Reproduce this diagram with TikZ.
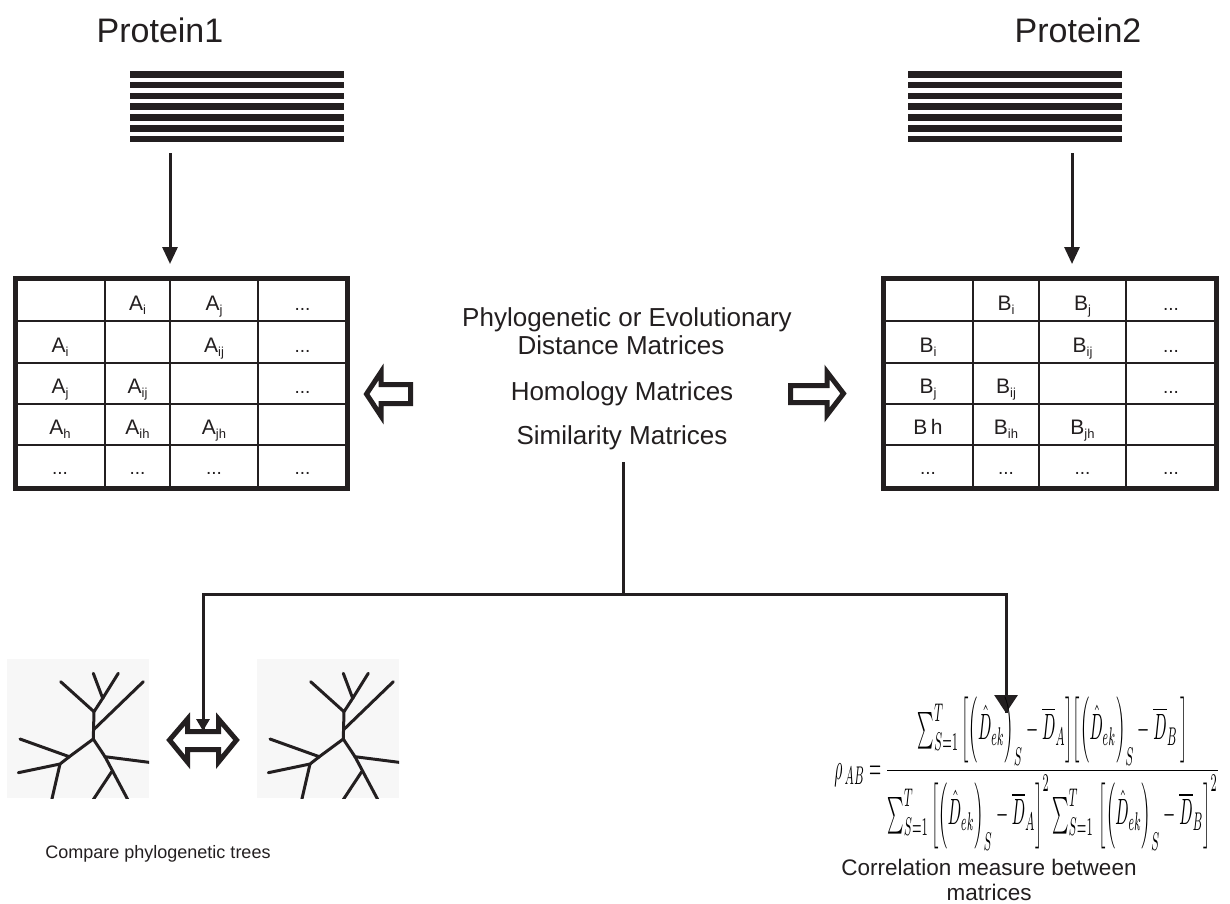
\documentclass[tikz,border=0pt]{standalone}
\usepackage{amsmath}
\usepackage{graphicx}
\usepackage{fontspec}
\setmainfont{Liberation Sans}
\usetikzlibrary{arrows.meta}
\definecolor{ink}{HTML}{231F20}
\definecolor{treebg}{HTML}{F7F7F7}
\newcommand{\msub}[2]{#1\raisebox{-4.5pt}{\fontsize{13}{13}\selectfont #2}}
\tikzset{
  cell/.style={anchor=base, inner sep=0pt, font=\fontsize{21}{21}\selectfont, text=ink},
  dots/.style={anchor=base, inner sep=0pt, font=\fontsize{19}{19}\selectfont, text=ink},
  bar/.style={fill=ink, draw=none},
  conn/.style={draw=ink, line width=3pt},
  hollow/.style={draw=ink, line width=5pt, fill=white, line join=miter},
  branch/.style={draw=ink, line width=3pt, line cap=round},
  label/.style={anchor=base, inner sep=0pt, text=ink},
}
\begin{document}
\begin{tikzpicture}[x=1pt,y=-1pt]
\useasboundingbox[fill=white] (0,0) rectangle (1230,903);

% titles
\node[label, font=\fontsize{34}{34}\selectfont] (p1) at (160,42) {Protein1};
\node[label, font=\fontsize{34}{34}\selectfont] (p2) at (1078,42) {Protein2};

% sequence bars
\foreach \k in {0,...,6} {
  \fill[bar] (130,{71+10.8*\k}) rectangle (344,{77.5+10.8*\k});
  \fill[bar] (908,{71+10.8*\k}) rectangle (1122,{77.5+10.8*\k});
}
\coordinate (s1) at (170,153);
\coordinate (s2) at (1072,153);
\coordinate (m1top) at (170,264);
\coordinate (m2top) at (1072,264);
\draw[conn, -{Triangle[length=17pt,width=15pt]}] (s1) -- (m1top);
\draw[conn, -{Triangle[length=17pt,width=15pt]}] (s2) -- (m2top);

% left matrix
\draw[ink, line width=2pt] (105,278) -- (105,488) (170,278) -- (170,488) (258,278) -- (258,488);
\draw[ink, line width=2pt] (15,321) -- (347,321) (15,363) -- (347,363) (15,404) -- (347,404) (15,445) -- (347,445);
\draw[ink, line width=5pt] (15,278) rectangle (347,488);
% row 1
\node[cell] (a12) at (137.5,310) {\msub{A}{i}};
\node[cell] (a13) at (214,310) {\msub{A}{j}};
\node[dots] (a14) at (302.5,310) {...};
% row 2
\node[cell] (a21) at (60,352) {\msub{A}{i}};
\node[cell] (a23) at (214,352) {\msub{A}{ij}};
\node[dots] (a24) at (302.5,352) {...};
% row 3
\node[cell] (a31) at (60,393) {\msub{A}{j}};
\node[cell] (a32) at (137.5,393) {\msub{A}{ij}};
\node[dots] (a34) at (302.5,393) {...};
% row 4
\node[cell] (a41) at (60,434) {\msub{A}{h}};
\node[cell] (a42) at (137.5,434) {\msub{A}{ih}};
\node[cell] (a43) at (214,434) {\msub{A}{jh}};
% row 5
\node[dots] (a51) at (60,474) {...};
\node[dots] (a52) at (137.5,474) {...};
\node[dots] (a53) at (214,474) {...};
\node[dots] (a54) at (302.5,474) {...};

% right matrix
\draw[ink, line width=2pt] (973,278) -- (973,488) (1039,278) -- (1039,488) (1126,278) -- (1126,488);
\draw[ink, line width=2pt] (883,321) -- (1216,321) (883,363) -- (1216,363) (883,404) -- (1216,404) (883,445) -- (1216,445);
\draw[ink, line width=5pt] (883,278) rectangle (1216,488);
\node[cell] (b12) at (1006,310) {\msub{B}{i}};
\node[cell] (b13) at (1082.5,310) {\msub{B}{j}};
\node[dots] (b14) at (1171,310) {...};
\node[cell] (b21) at (928,352) {\msub{B}{i}};
\node[cell] (b23) at (1082.5,352) {\msub{B}{ij}};
\node[dots] (b24) at (1171,352) {...};
\node[cell] (b31) at (928,393) {\msub{B}{j}};
\node[cell] (b32) at (1006,393) {\msub{B}{ij}};
\node[dots] (b34) at (1171,393) {...};
\node[cell] (b41) at (928,434) {B\,h};
\node[cell] (b42) at (1006,434) {\msub{B}{ih}};
\node[cell] (b43) at (1082.5,434) {\msub{B}{jh}};
\node[dots] (b51) at (928,474) {...};
\node[dots] (b52) at (1006,474) {...};
\node[dots] (b53) at (1082.5,474) {...};
\node[dots] (b54) at (1171,474) {...};

% hollow arrows
\draw[hollow] (410.5,384.5) -- (381,384.5) -- (381,372) -- (366.5,394) -- (381,416) -- (381,403.5) -- (410.5,403.5) -- cycle;
\draw[hollow] (790.5,385.5) -- (827,385.5) -- (827,372) -- (843.5,393.5) -- (827,415) -- (827,402.5) -- (790.5,402.5) -- cycle;

% center text
\node[label, font=\fontsize{26}{26}\selectfont] (t1) at (627,326) {Phylogenetic or Evolutionary};
\node[label, font=\fontsize{26}{26}\selectfont] (t2) at (621,354) {Distance Matrices};
\node[label, font=\fontsize{26}{26}\selectfont] (t3) at (622,400) {Homology Matrices};
\node[label, font=\fontsize{26}{26}\selectfont] (sim) at (622,444) {Similarity Matrices};

% connector tree
\coordinate (c0) at (623,463);
\coordinate (j) at (623,594);
\coordinate (jl) at (203,594);
\coordinate (jr) at (1006,594);
\coordinate (ltip) at (203,731);
\coordinate (rtip) at (1006,713);
\draw[conn, line cap=rect] (c0) -- (j);
\draw[conn, line join=miter] (j) -- (jl) -- (ltip);
\draw[conn, line join=miter] (j) -- (jr) -- (rtip);

% phylogenetic trees
\foreach \dx/\nm in {0/tl, 250/tr} {
  \begin{scope}[shift={(\dx,0)}]
    \fill[treebg] (7,659) rectangle (149,798);
    \clip (7,659) rectangle (149,798);
    \draw[branch] (93.3,739) -- (94,711.7) -- (102.7,698.3) -- (93.3,673.3);
    \draw[branch] (102.7,698.3) -- (118.3,673.3);
    \draw[branch] (94,711.7) -- (60.7,681.7);
    \draw[branch] (94,729.3) -- (143.3,681.7);
    \draw[branch] (93.3,739) -- (69.3,756.7) -- (20,739);
    \draw[branch] (69.3,756.7) -- (60,764) -- (18.3,772.7);
    \draw[branch] (60,764) -- (51.7,800);
    \draw[branch] (93.3,739) -- (105,756.7) -- (152,762.7);
    \draw[branch] (105,756.7) -- (128,800);
    \draw[branch] (111.7,771.7) -- (93,800);
  \end{scope}
}

% double hollow arrow between trees
\draw[hollow, line width=5pt] (169.5,740) -- (187.5,719) -- (187.5,731.5) -- (218.5,731.5) -- (218.5,719) -- (236.5,740) -- (218.5,762) -- (218.5,749.5) -- (187.5,749.5) -- (187.5,762) -- cycle;
\draw[conn, -{Triangle[length=12pt,width=13pt]}] (203,700) -- (ltip);
\draw[conn, -{Triangle[length=18pt,width=23pt]}] (1006,690) -- (rtip);

% formula
\node[inner sep=0pt] (form) at (1027,774)
{\resizebox{385pt}{82pt}{$\rho_{\,AB} = \dfrac{\textstyle\sum_{S=1}^{T}\Big[\Big(\hat{D}_{ek}\Big)_{S} - \overline{D}_{A}\Big]\Big[\Big(\hat{D}_{ek}\Big)_{S} - \overline{D}_{B}\,\Big]}{\textstyle\sum_{S=1}^{T}\Big[\Big(\hat{D}_{ek}\Big)_{S} - \overline{D}_{A}\Big]^{2}\sum_{S=1}^{T}\,\Big[\Big(\hat{D}_{ek}\Big)_{S} - \overline{D}_{B}\Big]^{2}}$}};

% captions
\node[label, font=\fontsize{18}{18}\selectfont] (cap1) at (158,858) {Compare phylogenetic trees};
\node[label, font=\fontsize{22.5}{22.5}\selectfont] (cap2) at (989,875) {Correlation measure between};
\node[label, font=\fontsize{22.5}{22.5}\selectfont] (cap3) at (989,900) {matrices};
\end{tikzpicture}
\end{document}
